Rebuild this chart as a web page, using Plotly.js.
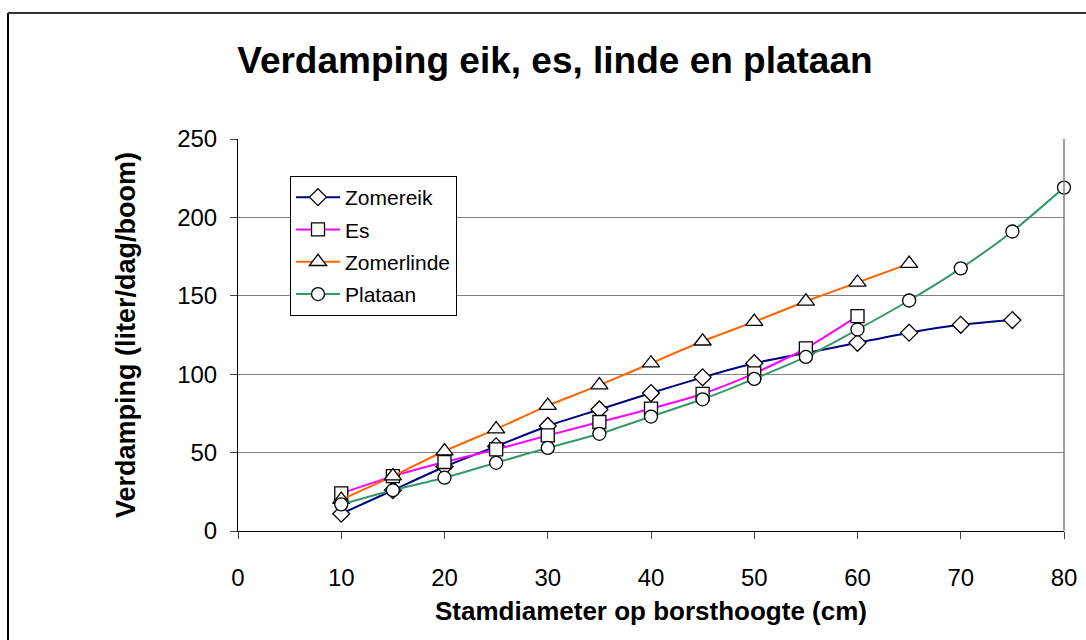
<!DOCTYPE html>
<html>
<head>
<meta charset="utf-8">
<script src="https://cdn.plot.ly/plotly-3.0.1.min.js"></script>
<style>html,body{margin:0;padding:0;background:#fff;}#chart{width:1086px;height:640px;}</style>
</head>
<body>
<div id="chart"></div>
<script>
const xZomereik = [10,15,20,25,30,35,40,45,50,55,60,65,70,75];
const yZomereik = [11,26,41,54,67,77.5,88,98,107,113.5,120,126.5,131.5,134.5];
const xEs = [10,15,20,25,30,35,40,45,50,55,60];
const yEs = [24,35,44,52,61,69.5,78,87.5,100.5,116.5,137];
const xZomerlinde = [10,15,20,25,30,35,40,45,50,55,60,65];
const yZomerlinde = [20,35,51,65,80,93,107,121,133.5,146.5,158.5,170.5];
const xPlataan = [10,15,20,25,30,35,40,45,50,55,60,65,70,75,80];
const yPlataan = [17,26,34,43.5,53,62,73,84,97,111,128.5,147,167.5,191,219];

const names = ['Zomereik','Es','Zomerlinde','Plataan'];
const colors = ['#000080','#FF00FF','#FF6600','#339966'];
const symbols = ['diamond','square','triangle-up','circle'];
const sizes = [13,13,15,13];
const xs = [xZomereik,xEs,xZomerlinde,xPlataan];
const ys = [yZomereik,yEs,yZomerlinde,yPlataan];

const FONT = 'Liberation Sans, Arial, sans-serif';

const traces = names.map((n,i)=>({
  x: xs[i], y: ys[i], name: n, type:'scatter', mode:'lines+markers',
  legendgroup: 'g'+i,
  line:{color:colors[i], width:2, shape:'spline', smoothing:0.6},
  marker:{symbol:symbols[i], size:sizes[i], color:'#ffffff', line:{color:'#000000', width:1.3}},
  cliponaxis:false
}));

const L=238, R=22, T=139, B=109, W=1086, H=640;
const pw = W-L-R, ph = H-T-B;
const px = v => (v-L)/pw;
const py = v => (H-B-v)/ph;

const layout = {
  width:W, height:H,
  margin:{l:L, r:R, t:T, b:B, pad:0},
  paper_bgcolor:'#ffffff', plot_bgcolor:'#ffffff',
  font:{family:FONT, color:'#000000'},
  title:{text:'<b>Verdamping eik, es, linde en plataan</b>', font:{size:37, family:FONT, color:'#000'}, x:0.511, xanchor:'center', y:1-60/H, yanchor:'middle'},
  xaxis:{
    range:[0,80], dtick:10, tick0:0, showgrid:false, zeroline:false,
    showline:true, linecolor:'#000', linewidth:1,
    ticks:'outside', ticklen:7, tickcolor:'#444', tickwidth:1,
    tickfont:{size:24, family:FONT}, ticklabelstandoff:18,
    title:{text:'<b>Stamdiameter op borsthoogte (cm)</b>', font:{size:26, family:FONT}, standoff:12}
  },
  yaxis:{
    range:[0,250], dtick:50, tick0:0, showgrid:true, gridcolor:'#808080', gridwidth:1, zeroline:false,
    showline:true, linecolor:'#000', linewidth:1,
    ticks:'outside', ticklen:7, tickcolor:'#444', tickwidth:1,
    tickfont:{size:24, family:FONT}, ticklabelstandoff:8,
    title:{text:'<b>Verdamping (liter/dag/boom)</b>', font:{size:27, family:FONT}, standoff:33}
  },
  legend:{
    x:px(290), y:py(176), xanchor:'left', yanchor:'top',
    bgcolor:'#ffffff', bordercolor:'#000', borderwidth:1,
    font:{size:21, family:FONT}, traceorder:'grouped', tracegroupgap:2,
    itemwidth:44
  },
  showlegend:true,
  shapes:[
    {type:'line', xref:'paper', yref:'paper', x0:1, x1:1, y0:0, y1:1, line:{color:'#808080', width:1.5}},
    {type:'line', xref:'paper', yref:'paper', x0:px(8), x1:px(8), y0:py(13), y1:py(660), line:{color:'#000', width:2}},
    {type:'line', xref:'paper', yref:'paper', x0:px(8), x1:px(1100), y0:py(13), y1:py(13), line:{color:'#333', width:2}}
  ]
};

Plotly.newPlot('chart', traces, layout, {displayModeBar:false, staticPlot:true});
</script>
</body>
</html>
